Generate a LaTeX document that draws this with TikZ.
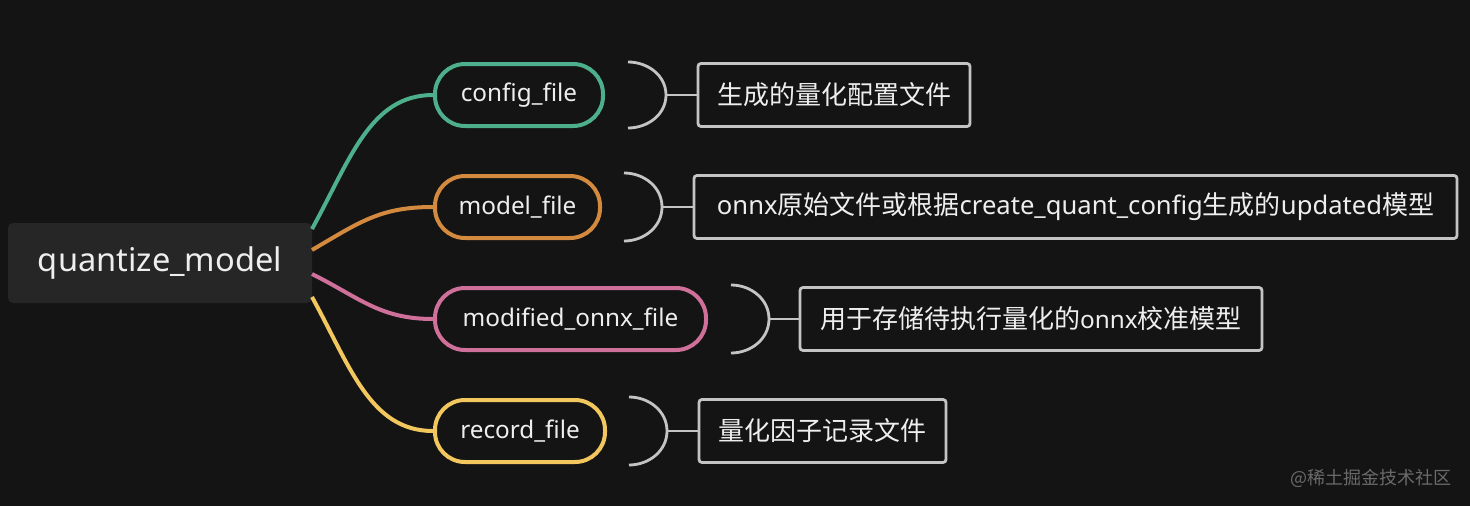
\documentclass[tikz,border=0pt]{standalone}
\usepackage{fontspec}
\setmainfont{Noto Sans}
\newfontfamily\cjk{Noto Sans CJK SC}
\definecolor{bg}{HTML}{141414}
\definecolor{rootfill}{HTML}{262626}
\definecolor{cteal}{HTML}{4DAF8C}
\definecolor{corange}{HTML}{D38A3E}
\definecolor{cpink}{HTML}{CF709B}
\definecolor{cyellow}{HTML}{F2C85E}
\definecolor{cgray}{HTML}{C4C4C4}
\definecolor{ctext}{HTML}{EEEEEE}
\definecolor{cwm}{HTML}{6A6A6A}
\newcommand{\cjkfs}{\cjk\fontsize{26}{30}\selectfont}
\begin{document}
\begin{tikzpicture}[x=1pt,y=-1pt,
  rootbox/.style={fill=rootfill, rounded corners=5pt, minimum width=304pt, minimum height=80pt, inner sep=0pt, text=ctext, font=\fontsize{32.6}{36}\selectfont},
  pill/.style={draw=#1, line width=4pt, fill=bg, rounded corners=30pt, minimum height=62pt, inner sep=0pt, text=ctext, font=\fontsize{24.3}{28}\selectfont},
  descbox/.style={draw=cgray, line width=2.8pt, rounded corners=3pt, minimum height=63pt, inner sep=0pt, text=ctext, font=\fontsize{24.3}{28}\selectfont},
  branch/.style={draw=#1, line width=4pt},
  bracket/.style={draw=cgray, line width=2.8pt},
  wm/.style={text=cwm, font=\cjk\fontsize{18}{20}\selectfont, inner sep=0pt}]
\fill[bg] (0,0) rectangle (1470,506);
\useasboundingbox (0,0) rectangle (1470,506);
% root
\node[rootbox] (root) at (160,263) {quantize\_model};
% branch nodes
\node[pill=cteal, minimum width=168pt] (n1) at (519,95) {config\_file};
\node[pill=corange, minimum width=165pt] (n2) at (517.5,207) {model\_file};
\node[pill=cpink, minimum width=271pt] (n3) at (570.5,319) {modified\_onnx\_file};
\node[pill=cyellow, minimum width=170pt] (n4) at (520,431) {record\_file};
% start coordinates on root
\coordinate (s1) at (312,229);
\coordinate (s2) at (312,250);
\coordinate (s3) at (312,274);
\coordinate (s4) at (312,297);
\draw[branch=cteal] (s1) .. controls (350,160) and (370,95) .. (n1.west);
\draw[branch=corange] (s2) .. controls (360,222) and (380,207) .. (n2.west);
\draw[branch=cpink] (s3) .. controls (360,298) and (380,319) .. (n3.west);
\draw[branch=cyellow] (s4) .. controls (350,366) and (370,431) .. (n4.west);
% description boxes
\node[descbox, minimum width=272pt] (d1) at (834,95) {\cjkfs 生成的量化配置文件};
\node[descbox, minimum width=763pt, font=\fontsize{25.6}{28}\selectfont] (d2) at (1075.5,207) {onnx{\cjkfs 原始文件或根据}create\_quant\_config{\cjkfs 生成的}updated{\cjkfs 模型}};
\node[descbox, minimum width=462pt] (d3) at (1031,319) {{\cjkfs 用于存储待执行量化的}onnx{\cjkfs 校准模型}};
\node[descbox, minimum width=247pt] (d4) at (822.5,431) {\cjkfs 量化因子记录文件};
% brackets
\coordinate (b1) at (666,95);
\coordinate (b2) at (662,207);
\coordinate (b3) at (769,319);
\coordinate (b4) at (667,431);
\draw[bracket] (628,62) to[out=0,in=90] (b1) to[out=-90,in=0] (628,128);
\draw[bracket] (624,173) to[out=0,in=90] (b2) to[out=-90,in=0] (624,241);
\draw[bracket] (731,285) to[out=0,in=90] (b3) to[out=-90,in=0] (731,353);
\draw[bracket] (629,397) to[out=0,in=90] (b4) to[out=-90,in=0] (629,465);
\draw[bracket] (b1) -- (d1.west);
\draw[bracket] (b2) -- (d2.west);
\draw[bracket] (b3) -- (d3.west);
\draw[bracket] (b4) -- (d4.west);
% watermark
\node[wm, anchor=east] (wmk) at (1452,478) {@稀土掘金技术社区};
\end{tikzpicture}
\end{document}
